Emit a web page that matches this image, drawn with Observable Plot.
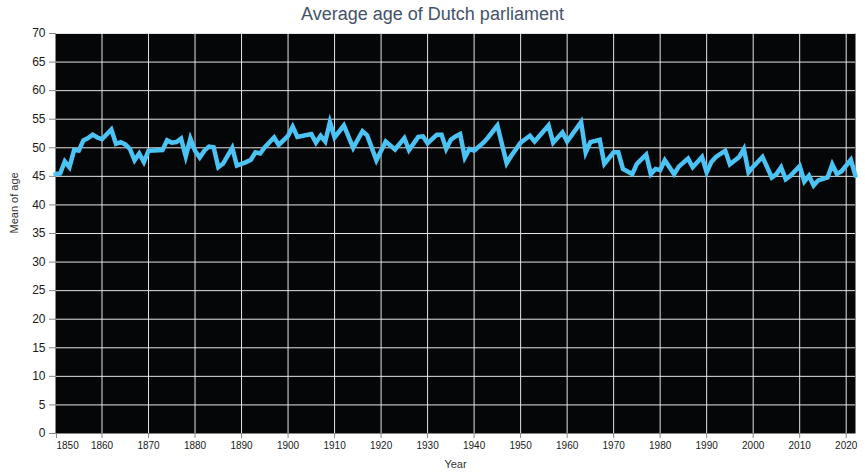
<!DOCTYPE html>
<html>
<head>
<meta charset="utf-8">
<script src="https://cdn.jsdelivr.net/npm/d3@7"></script>
<script src="https://cdn.jsdelivr.net/npm/@observablehq/plot@0.6"></script>
<style>
  body { margin: 0; background: #fff; font-family: "Liberation Sans", Arial, sans-serif; }
  #title { height: 24px; line-height: 28px; overflow: visible; text-align: center; font-size: 18px; color: #44526a; }
  #chart svg { display: block; }
</style>
</head>
<body>
<div id="title">Average age of Dutch parliament</div>
<div id="chart"></div>
<script>
const years = [
  1850,1851,1852,1853,1854,1855,1856,1857,1858,1859,1860,1862,1863,1864,1865,1866,1867,1868,1869,1870,
  1873,1874,1875,1876,1877,1878,1879,1880,1881,1882,1883,1884,1885,1886,1888,1889,1891,1892,1893,1894,
  1895,1897,1898,1900,1901,1902,1905,1906,1907,1908,1909,1910,1912,1914,1916,1917,1919,1921,1923,1925,
  1926,1928,1929,1930,1932,1933,1934,1935,1936,1937,1938,1939,1940,1942,1943,1945,1947,1948,1950,1952,
  1953,1956,1957,1959,1960,1963,1964,1965,1967,1968,1970,1971,1972,1974,1975,1977,1978,1979,1980,1981,
  1983,1984,1986,1987,1989,1990,1991,1992,1994,1995,1997,1998,1999,2000,2002,2004,2005,2006,2007,2008,
  2010,2011,2012,2013,2014,2016,2017,2018,2019,2021,2022
];
const meanAge = [
  45.4,45.5,47.6,46.6,49.6,49.5,51.3,51.7,52.3,51.8,51.5,53.2,50.7,51.0,50.6,49.8,47.8,49.0,47.5,49.5,
  49.6,51.3,50.9,51.0,51.6,48.5,51.6,49.5,48.3,49.5,50.2,50.1,46.6,47.2,50.0,46.9,47.5,47.9,49.2,49.0,
  50.1,51.8,50.5,52.1,53.7,51.9,52.4,50.9,52.1,51.1,54.5,51.8,53.9,50.0,52.9,52.2,47.8,51.1,49.7,51.7,
  49.6,51.9,52.0,50.8,52.3,52.3,49.8,51.4,52.0,52.4,48.3,49.8,49.5,50.9,51.8,53.9,47.3,48.6,50.9,52.1,
  51.1,53.9,50.9,52.7,51.1,54.5,49.2,51.0,51.4,47.2,49.2,49.2,46.3,45.4,47.2,48.8,45.4,46.3,46.1,47.8,
  45.4,46.7,48.1,46.6,48.4,45.7,47.5,48.4,49.5,47.1,48.4,49.8,45.7,46.7,48.4,44.8,45.4,46.6,44.5,45.1,
  46.8,44.1,45.1,43.4,44.3,44.8,47.1,45.4,45.9,47.9,45.1
];
const xTicks = [1850,1860,1870,1880,1890,1900,1910,1920,1930,1940,1950,1960,1970,1980,1990,2000,2010,2020];
const yTicks = [0,5,10,15,20,25,30,35,40,45,50,55,60,65,70];

const data = years.map((y, i) => ({year: y, age: meanAge[i]}));

const chart = Plot.plot({
  width: 865,
  height: 452,
  marginTop: 9,
  marginLeft: 55,
  marginRight: 10,
  marginBottom: 43,
  style: {fontFamily: "'Liberation Sans', Arial, sans-serif", color: "#222", background: "#fff"},
  x: {domain: [1850, 2022], label: null},
  y: {domain: [0, 70], label: null},
  marks: [
    Plot.frame({fill: "#050608", stroke: null}),
    Plot.gridX(xTicks, {stroke: "#e4e4e4", strokeOpacity: 1, strokeWidth: 1}),
    Plot.gridY(yTicks, {stroke: "#e4e4e4", strokeOpacity: 1, strokeWidth: 1}),
    Plot.axisY(yTicks, {tickSize: 6, tickPadding: 4, fontSize: 12, stroke: "#888", fill: "#1a1a1a", label: null, tickFormat: d => String(d)}),
    Plot.axisX(xTicks.slice(1), {tickSize: 5, tickPadding: 3, fontSize: 10, stroke: "#888", fill: "#1a1a1a", label: null, tickFormat: d => String(d)}),
    Plot.axisX([xTicks[0]], {tickSize: 5, tickPadding: 3, fontSize: 10, stroke: "#888", fill: "#1a1a1a", label: null, textAnchor: "start", dx: 1, tickFormat: d => String(d)}),
    Plot.ruleX([1850], {stroke: "#888"}),
    Plot.ruleY([0], {stroke: "#888"}),
    Plot.line(data, {x: "year", y: "age", stroke: "#4cc3f5", strokeWidth: 4.5, strokeLinejoin: "miter", strokeMiterlimit: 4}),
    Plot.text(["Mean of age"], {frameAnchor: "left", rotate: -90, dx: -41, fontSize: 11, fill: "#333"}),
    Plot.text(["Year"], {frameAnchor: "bottom", dy: 34, fontSize: 11, fill: "#333"})
  ]
});
document.getElementById("chart").appendChild(chart);
</script>
</body>
</html>
